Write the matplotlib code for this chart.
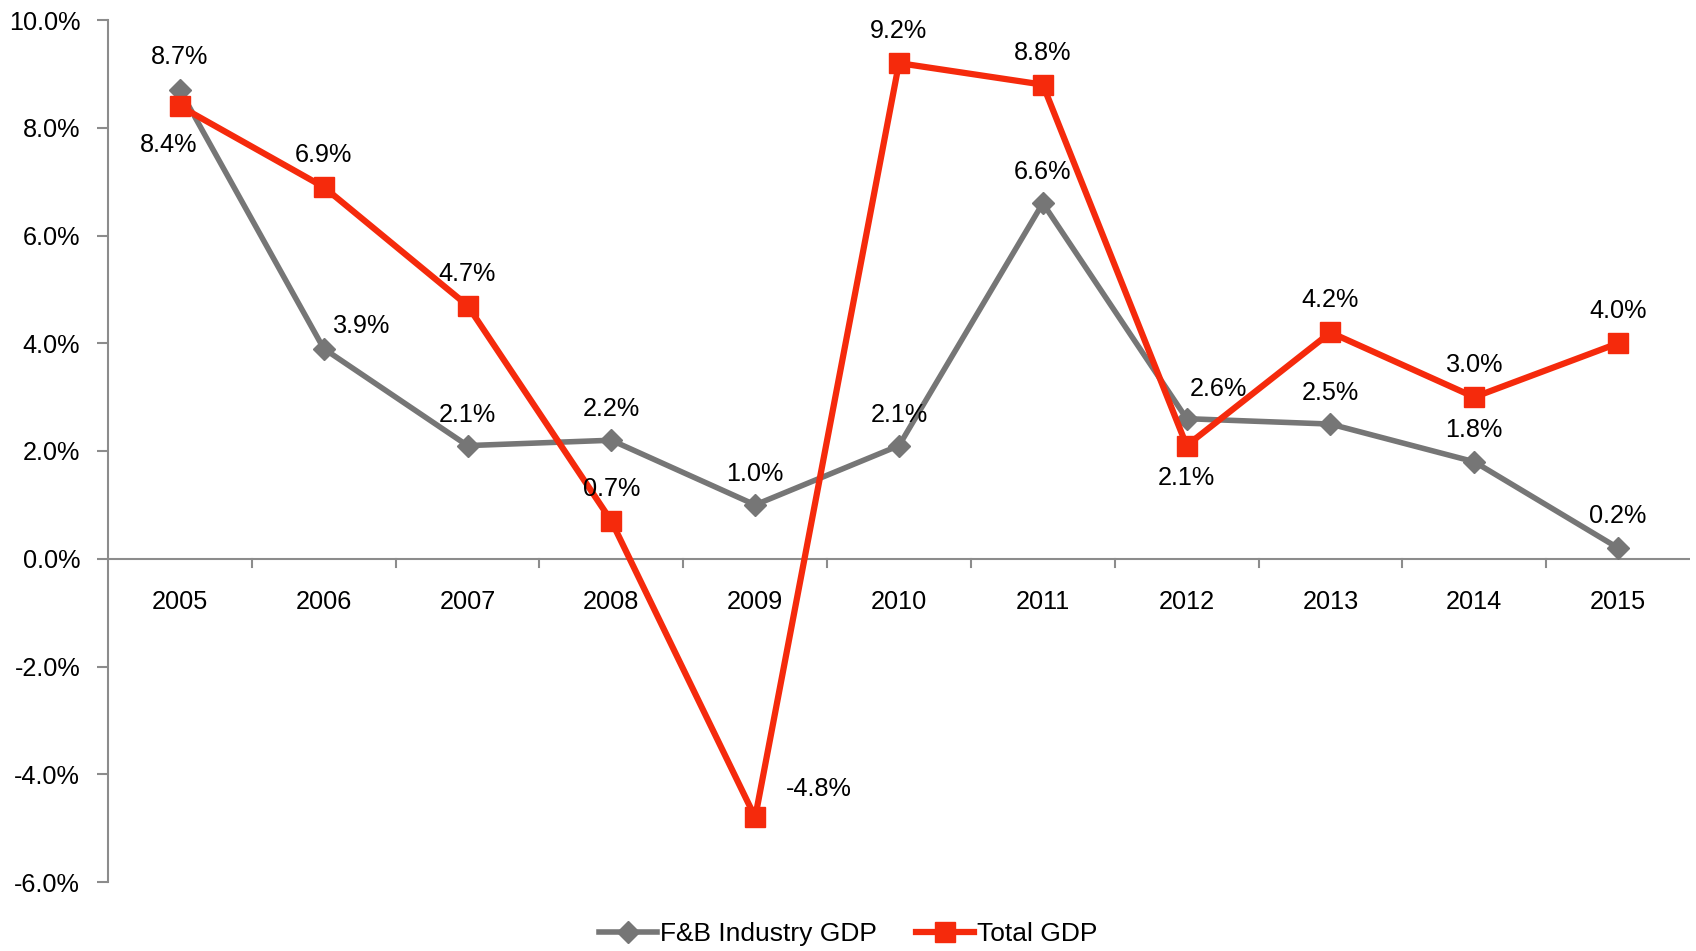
import matplotlib
matplotlib.use("Agg")
import matplotlib.pyplot as plt
from matplotlib.ticker import FuncFormatter, FixedLocator

plt.rcParams["font.family"] = ["Liberation Sans", "DejaVu Sans"]

years = ["2005", "2006", "2007", "2008", "2009", "2010",
         "2011", "2012", "2013", "2014", "2015"]
fb_gdp = [8.7, 3.9, 2.1, 2.2, 1.0, 2.1, 6.6, 2.6, 2.5, 1.8, 0.2]
total_gdp = [8.4, 6.9, 4.7, 0.7, -4.8, 9.2, 8.8, 2.1, 4.2, 3.0, 4.0]

# label offsets in pixels (dx, dy) for each point
fb_offsets = [(0, 33), (38, 23), (0, 31), (0, 31), (0, 31), (0, 31),
              (0, 31), (32, 30), (0, 31), (0, 32), (0, 32)]
total_offsets = [(-11, -39), (0, 32), (0, 32), (0, 32), (64, 28), (0, 32),
                 (0, 32), (0, -32), (0, 32), (0, 32), (0, 32)]

GRAY = "#767676"
RED = "#f52a0c"
AXIS = "#8c8c8c"
FS = 18.2

fig = plt.figure(figsize=(16.96, 9.51), dpi=100)
ax = fig.add_axes([108 / 1696, 1 - 882 / 951, (1690 - 108) / 1696, (882 - 20) / 951])

x = list(range(len(years)))
ax.plot(x, fb_gdp, color=GRAY, lw=4, marker="D", ms=11, mfc=GRAY, mec=GRAY,
        label="F&B Industry GDP", zorder=3)
ax.plot(x, total_gdp, color=RED, lw=4.5, marker="s", ms=14.5, mfc=RED, mec=RED,
        label="Total GDP", zorder=4)

for xi, v, (dx, dy) in zip(x, fb_gdp, fb_offsets):
    ax.annotate(f"{v:.1f}%", (xi, v), xytext=(dx, dy), textcoords="offset pixels",
                ha="center", va="center", fontsize=FS, zorder=5)
for xi, v, (dx, dy) in zip(x, total_gdp, total_offsets):
    ax.annotate(f"{v:.1f}%", (xi, v), xytext=(dx, dy), textcoords="offset pixels",
                ha="center", va="center", fontsize=FS, zorder=5)

ax.set_xlim(-0.5, len(years) - 0.5)
ax.set_ylim(-6, 10)
ax.yaxis.set_major_locator(FixedLocator([-6, -4, -2, 0, 2, 4, 6, 8, 10]))
ax.yaxis.set_major_formatter(FuncFormatter(lambda v, p: f"{v:.1f}%"))
ax.tick_params(axis="y", labelsize=FS, length=8, width=1.5, color=AXIS, pad=12)

# x axis sits at zero, category labels just below it
for s in ["top", "right", "bottom"]:
    ax.spines[s].set_visible(False)
ax.spines["left"].set_color(AXIS)
ax.spines["left"].set_linewidth(1.5)
ax.axhline(0, color=AXIS, lw=1.5, zorder=1)
ax.set_xticks([])
for xi in range(1, len(years)):
    ax.plot([xi - 0.5, xi - 0.5], [0, -0.15], color=AXIS, lw=1.5, zorder=1, clip_on=False)
for xi, yr in zip(x, years):
    ax.text(xi, -0.8, yr, ha="center", va="center", fontsize=FS)

fig.legend(loc="center", bbox_to_anchor=(0.5, 1 - 934 / 951), ncol=2, frameon=False,
           fontsize=19, handlelength=2.2, handletextpad=0.1, columnspacing=1.5)

fig.savefig("out.png", dpi=100)
